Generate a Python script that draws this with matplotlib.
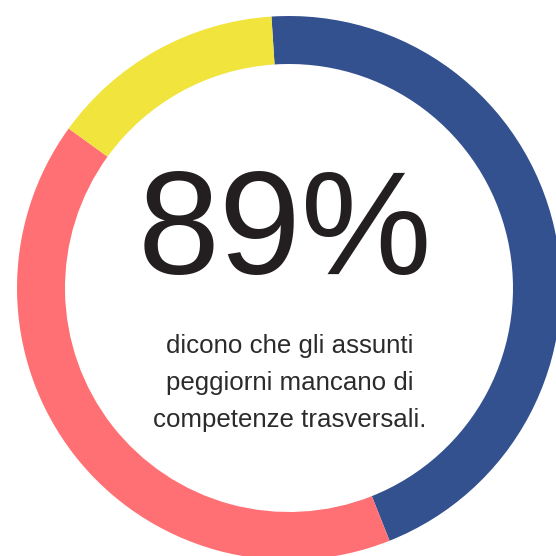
import matplotlib.pyplot as plt

# ring shares (blue, red, yellow), clockwise from the top
labels = ["blue", "red", "yellow"]
shares = [45, 41, 14]
colors = ["#33518F", "#FF7074", "#F0E43D"]

headline = "89%"
caption = ["dicono che gli assunti",
           "peggiorni mancano di",
           "competenze trasversali."]

W = H = 556
fig = plt.figure(figsize=(W / 100, H / 100), dpi=100)
ax = fig.add_axes([0, 0, 1, 1])

# pixel space, y going up
cx, cy = 289, H - 288
r_out, ring = 272, 48

ax.pie(shares, colors=colors, startangle=93.7, counterclock=False,
       center=(cx, cy), radius=r_out,
       wedgeprops=dict(width=ring, linewidth=0))

ax.set_xlim(0, W)
ax.set_ylim(0, H)
ax.set_aspect("equal")
ax.axis("off")

txt_color = "#231F20"
ax.text(285, H - 274, headline, ha="center", va="baseline",
        fontsize=106, family="Liberation Sans", color=txt_color)

for i, line in enumerate(caption):
    ax.text(290, H - (353 + 37 * i), line, ha="center", va="baseline",
            fontsize=18.6, family="Liberation Sans", color="#2b2b2b")

fig.savefig("out.png", dpi=100)
